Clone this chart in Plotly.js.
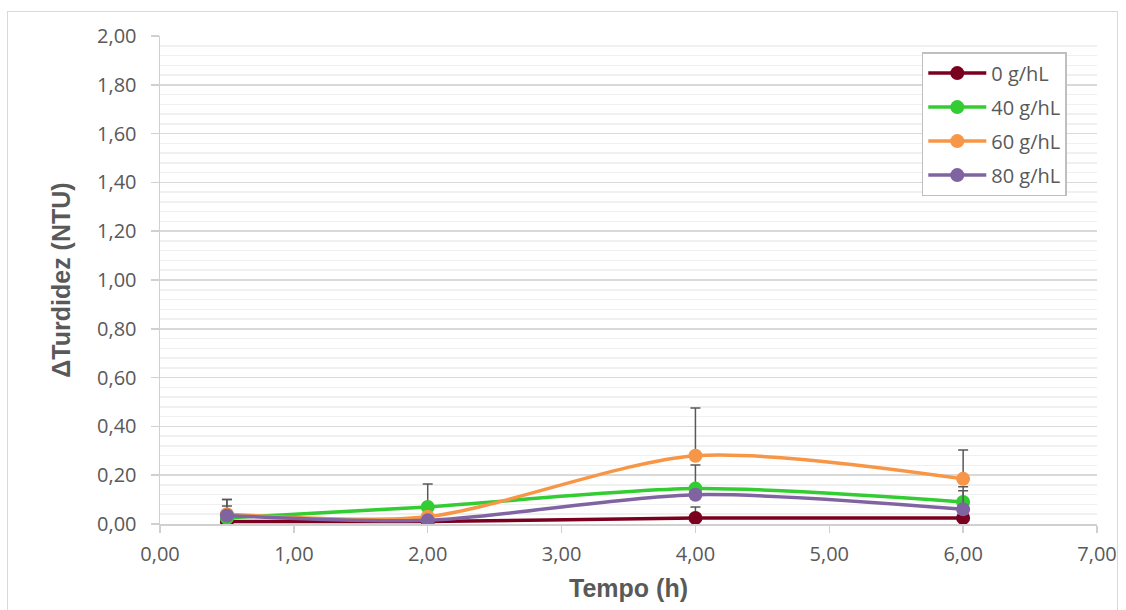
<!DOCTYPE html>
<html><head><meta charset="utf-8">
<script src="https://cdn.plot.ly/plotly-3.0.1.min.js"></script>
<style>
html,body{margin:0;padding:0;background:#fff;}
#wrap{position:relative;width:1126px;height:610px;}
#frame{position:absolute;left:7px;top:11px;width:1111px;height:610px;border:1px solid #d9d9d9;box-sizing:border-box;pointer-events:none;}
#chart{position:absolute;left:0;top:0;width:1126px;height:610px;}
</style></head>
<body><div id="wrap"><div id="chart"></div><div id="frame"></div></div>
<script>
const tempo = [0.5, 2, 4, 6];
const names = ['0 g/hL', '40 g/hL', '60 g/hL', '80 g/hL'];
const s0 = [0.010, 0.010, 0.025, 0.025];
const s40 = [0.025, 0.070, 0.145, 0.090];
const s60 = [0.040, 0.030, 0.280, 0.185];
const s80 = [0.035, 0.015, 0.120, 0.060];
const e0 = [0.064, 0.000, 0.045, 0.000];
const e40 = [0.075, 0.094, 0.097, 0.046];
const e60 = [0.060, 0.000, 0.195, 0.118];
const e80 = [0.000, 0.000, 0.000, 0.093];
const colors = ['#7B0020', '#33CC33', '#F79646', '#8064A2'];

const series = [s0, s40, s60, s80];
const errs = [e0, e40, e60, e80];
const traces = series.map((s, i) => ({
  x: tempo, y: s, name: names[i], type: 'scatter', mode: 'lines+markers',
  legendgroup: names[i],
  line: {color: colors[i], width: 3.5, shape: 'spline', smoothing: 0.8},
  marker: {color: colors[i], size: 14},
  error_y: {type: 'data', symmetric: false, array: errs[i], arrayminus: [0,0,0,0],
    color: '#595959', thickness: 1.5, width: 5}
}));

const titleFont = {family: 'Liberation Sans, Arial, sans-serif', size: 25, color: '#595959', weight: 'bold'};
const layout = {
  width: 1126, height: 610,
  margin: {l: 160, r: 29, t: 36, b: 86},
  paper_bgcolor: '#fff', plot_bgcolor: '#fff',
  separators: ',.',
  showlegend: true,
  font: {family: 'Open Sans, sans-serif', color: '#595959'},
  xaxis: {
    range: [0, 7], dtick: 1, tick0: 0, tickformat: '.2f',
    showgrid: false, zeroline: false,
    showline: true, linecolor: '#d0d0d0', linewidth: 1.5,
    ticks: 'outside', ticklen: 7, tickcolor: '#d0d0d0', tickwidth: 1.5,
    ticklabelstandoff: 4,
    tickfont: {size: 20, color: '#595959'},
    title: {text: 'Tempo (h)', font: titleFont, standoff: 14}
  },
  yaxis: {
    range: [0, 2], dtick: 0.2, tick0: 0, tickformat: '.2f',
    showgrid: true, gridcolor: '#d9d9d9', gridwidth: 1.5, zeroline: false,
    showline: true, linecolor: '#d0d0d0', linewidth: 1.5,
    ticks: 'outside', ticklen: 8, tickcolor: '#d0d0d0', tickwidth: 1.5,
    ticklabelstandoff: 10,
    tickfont: {size: 20, color: '#595959'},
    minor: {dtick: 0.04, showgrid: true, gridcolor: '#f0f0f0', gridwidth: 1.5, ticks: ''},
    title: {text: 'ΔTurdidez (NTU)', font: titleFont, standoff: 19}
  },
  legend: {
    x: 0.813, y: 0.967, xanchor: 'left', yanchor: 'top',
    bgcolor: '#fff', bordercolor: '#bfbfbf', borderwidth: 1.5,
    font: {size: 20, color: '#595959'},
    itemwidth: 58, tracegroupgap: 5
  }
};
Plotly.newPlot('chart', traces, layout, {displayModeBar: false, staticPlot: true});
</script></body></html>
